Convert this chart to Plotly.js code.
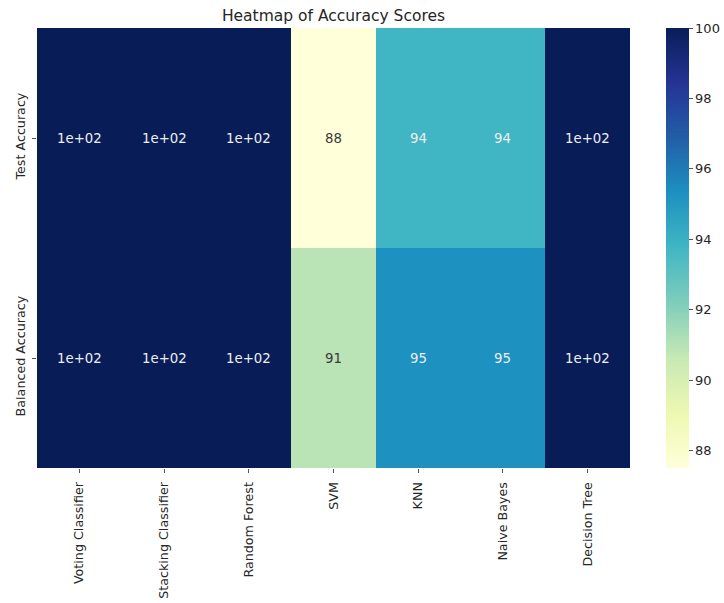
<!DOCTYPE html>
<html>
<head>
<meta charset="utf-8">
<script src="https://cdn.plot.ly/plotly-3.0.1.min.js"></script>
<style>
  html, body { margin: 0; padding: 0; background: #fff; }
  #chart { width: 724px; height: 603px; }
</style>
</head>
<body>
<div id="chart"></div>
<script>
// Models compared and the two accuracy metrics (in percent)
const models = ["Voting Classifier", "Stacking Classifier", "Random Forest", "SVM", "KNN", "Naive Bayes", "Decision Tree"];
const metrics = ["Test Accuracy", "Balanced Accuracy"];
const testAccuracy = [100, 100, 100, 87.5, 93.8, 93.8, 100];
const balancedAccuracy = [100, 100, 100, 90.9, 95.3, 95.3, 100];
const colorTicks = [88, 90, 92, 94, 96, 98, 100];

// ColorBrewer YlGnBu, light to dark
const ylgnbu = ["#ffffd9", "#edf8b1", "#c7e9b4", "#7fcdbb", "#41b6c4", "#1d91c0", "#225ea8", "#253494", "#081d58"];
const colorscale = ylgnbu.map((c, i) => [i / (ylgnbu.length - 1), c]);

const z = [testAccuracy, balancedAccuracy];
const all = z.flat();
const zmin = Math.min(...all), zmax = Math.max(...all);

// two significant digits, like printf's %.2g
function fmt2g(v) {
  if (v === 0) return "0";
  const exp = Math.floor(Math.log10(Math.abs(Number(v.toPrecision(2)))));
  if (exp < -4 || exp >= 2) {
    const m = v / Math.pow(10, exp);
    const ms = Number(m.toPrecision(2)).toString();
    const sign = exp < 0 ? "-" : "+";
    const e = Math.abs(exp).toString().padStart(2, "0");
    return ms + "e" + sign + e;
  }
  return Number(v.toPrecision(2)).toString();
}

function hexToRgb(h) {
  return [1, 3, 5].map(i => parseInt(h.substr(i, 2), 16));
}
function colorAt(v) {
  const t = (v - zmin) / (zmax - zmin) * (ylgnbu.length - 1);
  const i = Math.min(Math.floor(t), ylgnbu.length - 2);
  const f = t - i;
  const a = hexToRgb(ylgnbu[i]), b = hexToRgb(ylgnbu[i + 1]);
  return a.map((c, k) => c + (b[k] - c) * f);
}
function luminance(rgb) {
  const lin = rgb.map(c => {
    c /= 255;
    return c <= 0.03928 ? c / 12.92 : Math.pow((c + 0.055) / 1.055, 2.4);
  });
  return 0.2126 * lin[0] + 0.7152 * lin[1] + 0.0722 * lin[2];
}

const FONT = "DejaVu Sans";
const INK = "#262626";

// cell labels, dark on light cells and light on dark cells
const annotations = [];
metrics.forEach((m, r) => {
  models.forEach((name, c) => {
    const v = z[r][c];
    const dark = luminance(colorAt(v)) > 0.408;
    annotations.push({
      x: name, y: m, xref: "x", yref: "y",
      text: fmt2g(v), showarrow: false,
      font: { family: FONT, size: 13.3, color: dark ? "#3a3a3a" : "#eeeeee" }
    });
  });
});

const trace = {
  type: "heatmap",
  x: models,
  y: metrics,
  z: z,
  zmin: zmin,
  zmax: zmax,
  colorscale: colorscale,
  xgap: 0, ygap: 0,
  hoverinfo: "x+y+z",
  colorbar: {
    x: 1.0607, xanchor: "left", xpad: 0,
    y: 0, yanchor: "bottom", len: 1, lenmode: "fraction", ypad: 0,
    thickness: 23,
    outlinewidth: 0,
    tickvals: colorTicks,
    ticks: "outside", ticklen: 4, tickwidth: 1, tickcolor: "#555",
    tickfont: { family: FONT, size: 13, color: INK }
  }
};

const layout = {
  width: 724, height: 603,
  margin: { l: 37, r: 94, t: 28, b: 135, autoexpand: false },
  paper_bgcolor: "#fff",
  plot_bgcolor: "#fff",
  title: {
    text: "Heatmap of Accuracy Scores",
    x: 0.5, xref: "paper", xanchor: "center",
    y: 1, yref: "paper", yanchor: "bottom", pad: { b: 7 },
    font: { family: FONT, size: 15.5, color: INK }
  },
  xaxis: {
    type: "category",
    tickangle: -90,
    ticks: "outside", ticklen: 4, tickcolor: "#555",
    ticklabelstandoff: 4,
    tickfont: { family: FONT, size: 12.7, color: INK },
    showgrid: false, zeroline: false, showline: false
  },
  yaxis: {
    type: "category",
    autorange: "reversed",
    tickangle: -90,
    ticks: "outside", ticklen: 4, tickcolor: "#555",
    ticklabelstandoff: 2,
    tickfont: { family: FONT, size: 12.7, color: INK },
    showgrid: false, zeroline: false, showline: false
  },
  annotations: annotations
};

Plotly.newPlot("chart", [trace], layout, { displayModeBar: false, staticPlot: true });
</script>
</body>
</html>
